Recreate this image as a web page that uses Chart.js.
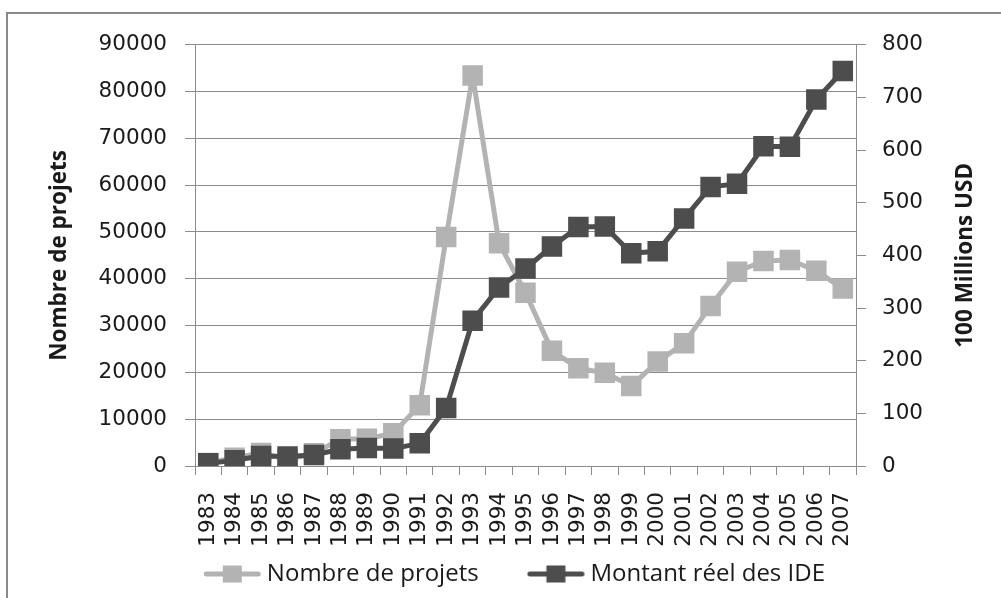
<!DOCTYPE html>
<html>
<head>
<meta charset="utf-8">
<script src="https://cdn.jsdelivr.net/npm/chart.js@4/dist/chart.umd.min.js"></script>
<style>
html,body{margin:0;padding:0;background:#fff;}
canvas{display:block;}
</style>
</head>
<body>
<canvas id="c" width="1001" height="598"></canvas>
<script>
// ---- data ----
const years = ['1983','1984','1985','1986','1987','1988','1989','1990','1991','1992','1993','1994','1995','1996','1997','1998','1999','2000','2001','2002','2003','2004','2005','2006','2007'];
const projets = [640, 1750, 2800, 1400, 2700, 5700, 5800, 7000, 13000, 48900, 83400, 47600, 37000, 24600, 20900, 19900, 17100, 22300, 26200, 34200, 41500, 43800, 44000, 41700, 37900];
const ide = [5, 11, 19, 18, 21, 32, 34, 33, 43, 110, 276, 339, 375, 417, 454, 455, 404, 408, 470, 530, 536, 607, 606, 696, 750];
const seriesNames = ['Nombre de projets', 'Montant réel des IDE'];
const axisTitles = ['Nombre de projets', '100 Millions USD'];
const leftRange = [0, 90000, 10000];
const rightRange = [0, 800, 100];

// ---- styles ----
const LIGHT = '#B3B3B3', DARK = '#4D4D4D', GRID = '#8C8C8C', TXT = '#1a1a1a';
const TICK_FONT = {family: 'DejaVu Sans', size: 21.5};
const TITLE_FONT = {family: 'Open Sans', size: 22.5, weight: 'bold'};

function legendGlyph(color) {
  const c = document.createElement('canvas');
  c.width = 110; c.height = 20;
  const g = c.getContext('2d');
  const a = 46.8;
  g.strokeStyle = color; g.lineWidth = 5; g.lineCap = 'round';
  g.beginPath(); g.moveTo(a + 2.5, 10); g.lineTo(a + 54.5, 10); g.stroke();
  g.fillStyle = color; g.fillRect(a + 19, 1.5, 19, 17);
  return c;
}
const glyphs = [legendGlyph(LIGHT), legendGlyph(DARK)];

const extras = {
  id: 'extras',
  beforeDraw(chart) {
    const ctx = chart.ctx;
    ctx.save();
    ctx.strokeStyle = '#8a8a8a'; ctx.lineWidth = 2;
    ctx.strokeRect(7, 13, 1300, 900);
    ctx.restore();
  },
  afterDraw(chart) {
    const s = chart.scales.y1, ctx = chart.ctx;
    ctx.save();
    ctx.font = 'bold 22.5px "Open Sans"';
    ctx.fillStyle = TXT; ctx.textAlign = 'center'; ctx.textBaseline = 'middle';
    ctx.translate(s.right - 28, (s.top + s.bottom) / 2);
    ctx.rotate(-Math.PI / 2);
    ctx.fillText(axisTitles[1], 0, 0);
    ctx.restore();
  }
};

new Chart(document.getElementById('c'), {
  type: 'line',
  data: {
    labels: years,
    datasets: [
      {label: seriesNames[0], data: projets, yAxisID: 'y', order: 1,
       borderColor: LIGHT, backgroundColor: LIGHT, borderWidth: 5, borderJoinStyle: 'round',
       pointStyle: 'rect', pointRadius: 14.5, pointHoverRadius: 14.5, pointBorderWidth: 0,
       pointBackgroundColor: LIGHT, tension: 0, fill: false},
      {label: seriesNames[1], data: ide, yAxisID: 'y1', order: 0,
       borderColor: DARK, backgroundColor: DARK, borderWidth: 5, borderJoinStyle: 'round',
       pointStyle: 'rect', pointRadius: 14.5, pointHoverRadius: 14.5, pointBorderWidth: 0,
       pointBackgroundColor: DARK, tension: 0, fill: false}
    ]
  },
  options: {
    responsive: false, animation: false, devicePixelRatio: 1,
    layout: {padding: {left: 0, right: 7, top: 44.7, bottom: 2}},
    scales: {
      x: {
        offset: true,
        grid: {offset: true, drawOnChartArea: false, tickLength: 9, color: GRID, lineWidth: 1},
        border: {color: GRID, width: 1},
        ticks: {autoSkip: false, maxRotation: 90, minRotation: 90, padding: 17, font: TICK_FONT, color: TXT},
        afterFit(s) { s.height = 82; }
      },
      y: {
        position: 'left', min: leftRange[0], max: leftRange[1],
        ticks: {stepSize: leftRange[2], padding: 18, font: TICK_FONT, color: TXT, callback: v => String(v)},
        grid: {color: GRID, tickLength: 10, lineWidth: 1},
        border: {color: GRID, width: 1},
        title: {display: true, text: axisTitles[0], font: TITLE_FONT, color: TXT, padding: {top: 46, bottom: 0}},
        afterFit(s) { s.width = 195; }
      },
      y1: {
        position: 'right', min: rightRange[0], max: rightRange[1],
        ticks: {stepSize: rightRange[2], padding: 16, font: TICK_FONT, color: TXT, callback: v => String(v)},
        grid: {drawOnChartArea: false, color: GRID, tickLength: 10, lineWidth: 1},
        border: {color: GRID, width: 1},
        afterFit(s) { s.width = 138; }
      }
    },
    plugins: {
      legend: {
        position: 'bottom', align: 'center',
        labels: {
          usePointStyle: true, pointStyleWidth: 85.85, padding: 14,
          font: {family: 'Open Sans', size: 24}, color: TXT,
          generateLabels(chart) {
            const items = Chart.defaults.plugins.legend.labels.generateLabels(chart);
            items.forEach(it => { it.pointStyle = glyphs[it.datasetIndex]; });
            return items.sort((a, b) => a.datasetIndex - b.datasetIndex);
          }
        }
      },
      tooltip: {enabled: false}
    }
  },
  plugins: [extras]
});
</script>
</body>
</html>
